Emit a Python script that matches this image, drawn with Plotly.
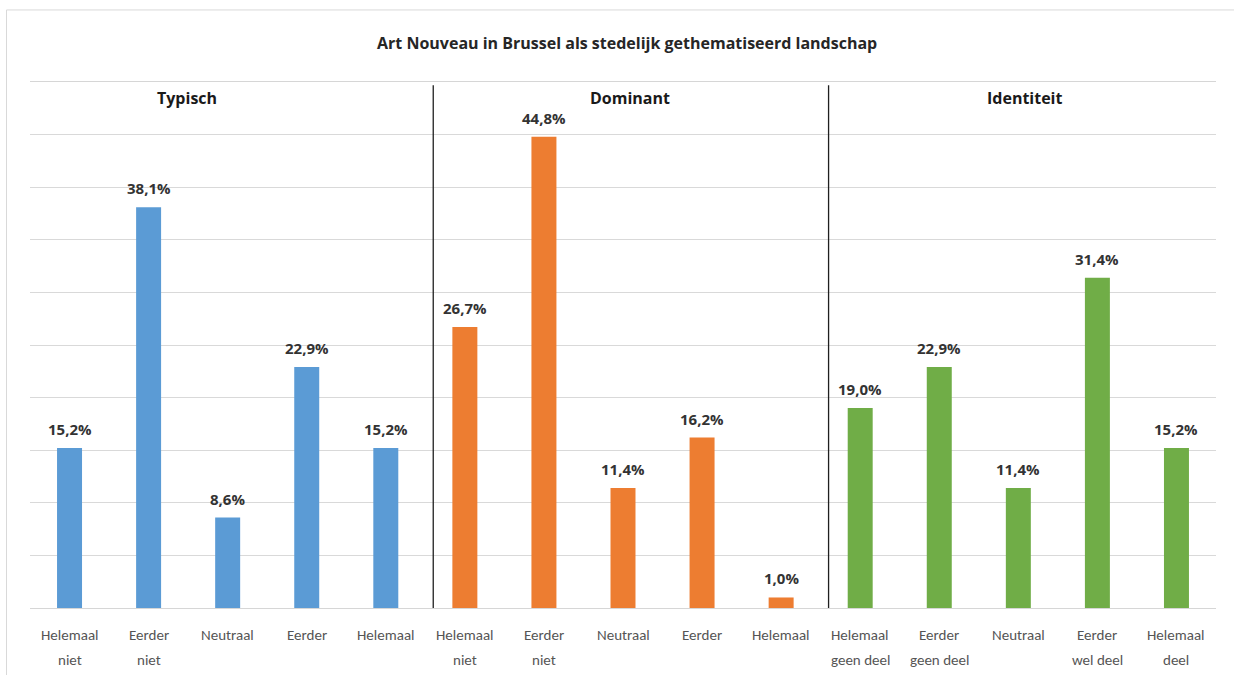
import plotly.graph_objects as go

# Survey answers per theme (percentages)
groups = ["Typisch", "Dominant", "Identiteit"]
typisch = [15.2, 38.1, 8.6, 22.9, 15.2]
dominant = [26.7, 44.8, 11.4, 16.2, 1.0]
identiteit = [19.0, 22.9, 11.4, 31.4, 15.2]

# Answer labels under each bar (one list of lines per bar)
labels_typisch = [["Helemaal", "niet"], ["Eerder", "niet"], ["Neutraal"], ["Eerder"], ["Helemaal"]]
labels_dominant = [["Helemaal", "niet"], ["Eerder", "niet"], ["Neutraal"], ["Eerder"], ["Helemaal"]]
labels_identiteit = [["Helemaal", "geen deel"], ["Eerder", "geen deel"], ["Neutraal"],
                     ["Eerder", "wel deel"], ["Helemaal", "deel"]]

title = "Art Nouveau in Brussel als stedelijk gethematiseerd landschap"
colors = ["#5B9BD5", "#ED7D31", "#70AD47"]
FONT = "Carlito, Lato, 'Liberation Sans', sans-serif"
BOLD_FONT = "'Open Sans', 'DejaVu Sans', sans-serif"

series = [typisch, dominant, identiteit]
labels = [labels_typisch, labels_dominant, labels_identiteit]

fig = go.Figure()
annotations = []
pos = 0
for vals, labs, col in zip(series, labels, colors):
    xs = list(range(pos, pos + len(vals)))
    fig.add_trace(go.Bar(x=xs, y=vals, marker=dict(color=col, line=dict(width=0)),
                         showlegend=False, hoverinfo="x+y"))
    for x, v, lab in zip(xs, vals, labs):
        # value label above the bar
        annotations.append(dict(x=x, y=v, xref="x", yref="y", text=f"{v:.1f}%".replace(".", ","),
                                showarrow=False, yanchor="bottom", yshift=7,
                                font=dict(family=BOLD_FONT, size=15, color="#333333", weight="bold")))
        # category label below the axis, one annotation per line
        for i, line in enumerate(lab):
            annotations.append(dict(x=x, y=0, xref="x", yref="paper", text=line,
                                    showarrow=False, yanchor="middle", yshift=-27 - 25 * i,
                                    font=dict(family=FONT, size=15, color="#555555")))
    pos += len(vals)

# Group headings
heading_x = [1.49, 7.09, 12.09]
for g, hx in zip(groups, heading_x):
    annotations.append(dict(x=hx, y=0.97, xref="x", yref="paper", text=g, showarrow=False,
                            yanchor="middle",
                            font=dict(family=BOLD_FONT, size=16, color="#1a1a1a", weight="bold")))

# Chart title
annotations.append(dict(x=0.503, y=1.074, xref="paper", yref="paper", text=title, showarrow=False,
                        yanchor="middle", xanchor="center",
                        font=dict(family=BOLD_FONT, size=16, color="#262626", weight="bold")))

shapes = []
# Separators between the three themes
for sx in [4.6, 9.6]:
    shapes.append(dict(type="line", xref="x", yref="y", x0=sx, x1=sx, y0=-0.4, y1=49.7,
                       line=dict(color="#1f1f1f", width=1.3)))
# Outer chart border
shapes.append(dict(type="rect", xref="paper", yref="paper", x0=-0.0198, x1=1.05, y0=-0.2, y1=1.137,
                   line=dict(color="#d9d9d9", width=1), fillcolor="rgba(0,0,0,0)", layer="below"))

fig.update_layout(
    width=1234, height=675,
    margin=dict(l=30, r=18, t=82, b=67),
    paper_bgcolor="white", plot_bgcolor="white",
    bargap=0.684,
    annotations=annotations,
    shapes=shapes,
    xaxis=dict(range=[-0.5, 14.5], showticklabels=False, showgrid=False, zeroline=False,
               showline=True, mirror=True, linecolor="#d6d6d6", linewidth=1, ticks=""),
    yaxis=dict(range=[0, 50], dtick=5, showticklabels=False, showgrid=True,
               gridcolor="#d9d9d9", gridwidth=1, zeroline=False, showline=False, ticks=""),
    font=dict(family=FONT),
)

fig.write_html("out.html")
